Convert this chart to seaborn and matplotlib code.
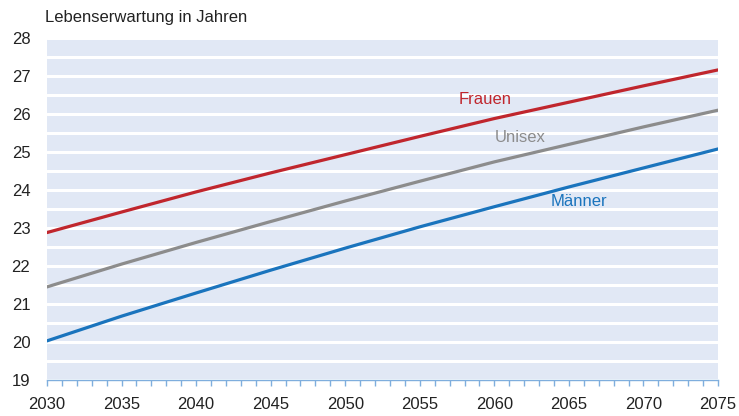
import numpy as np
import pandas as pd
import seaborn as sns
import matplotlib.pyplot as plt
from matplotlib.ticker import MultipleLocator

years = [2030, 2035, 2040, 2045, 2050, 2055, 2060, 2065, 2070, 2075]
frauen = [22.88, 23.42, 23.95, 24.45, 24.93, 25.41, 25.88, 26.31, 26.74, 27.16]
unisex = [21.45, 22.05, 22.62, 23.17, 23.71, 24.23, 24.74, 25.20, 25.66, 26.10]
maenner = [20.03, 20.68, 21.29, 21.89, 22.47, 23.03, 23.56, 24.08, 24.58, 25.08]

df = pd.DataFrame({
    'Jahr': years * 3,
    'Wert': frauen + unisex + maenner,
    'Gruppe': ['Frauen'] * 10 + ['Unisex'] * 10 + ['Männer'] * 10,
})
pal = {'Frauen': '#C0262D', 'Unisex': '#8C8C8C', 'Männer': '#1A74BD'}

sns.set_style('white')
plt.rcParams['font.family'] = ['Liberation Sans', 'DejaVu Sans']

fig = plt.figure(figsize=(7.39, 4.16), dpi=100)
ax = fig.add_axes([0.0636, 0.0865, 0.908, 0.8222])
ax.set_facecolor('#E1E8F5')

sns.lineplot(data=df, x='Jahr', y='Wert', hue='Gruppe', palette=pal,
             linewidth=2.3, legend=False, ax=ax, zorder=3)

ax.set_xlim(2030, 2075)
ax.set_ylim(19, 28)
ax.yaxis.set_major_locator(MultipleLocator(1))
ax.yaxis.set_minor_locator(MultipleLocator(0.5))
ax.xaxis.set_major_locator(MultipleLocator(5))
ax.xaxis.set_minor_locator(MultipleLocator(1))
ax.grid(which='both', axis='y', color='white', linewidth=2.2)
ax.set_axisbelow(True)

for s in ['top', 'right', 'left']:
    ax.spines[s].set_visible(False)
ax.spines['bottom'].set_color('#7FAEDD')
ax.spines['bottom'].set_linewidth(1.0)

ax.tick_params(axis='x', which='both', bottom=True, direction='out', color='#7FAEDD',
               length=4, width=1, labelsize=12, labelcolor='#222222', pad=8.5)
ax.tick_params(axis='y', which='both', left=False, length=0, labelsize=12,
               labelcolor='#222222', pad=12)
ax.set_xlabel('')
ax.set_ylabel('')

ax.text(2059.4, 26.39, 'Frauen', color=pal['Frauen'], fontsize=12, ha='center', va='center')
ax.text(2061.7, 25.37, 'Unisex', color=pal['Unisex'], fontsize=12, ha='center', va='center')
ax.text(2065.7, 23.71, 'Männer', color=pal['Männer'], fontsize=12, ha='center', va='center')

fig.text(0.061, 0.958, 'Lebenserwartung in Jahren', fontsize=12, color='#222222',
         ha='left', va='center')

fig.savefig('out.png', dpi=100)
